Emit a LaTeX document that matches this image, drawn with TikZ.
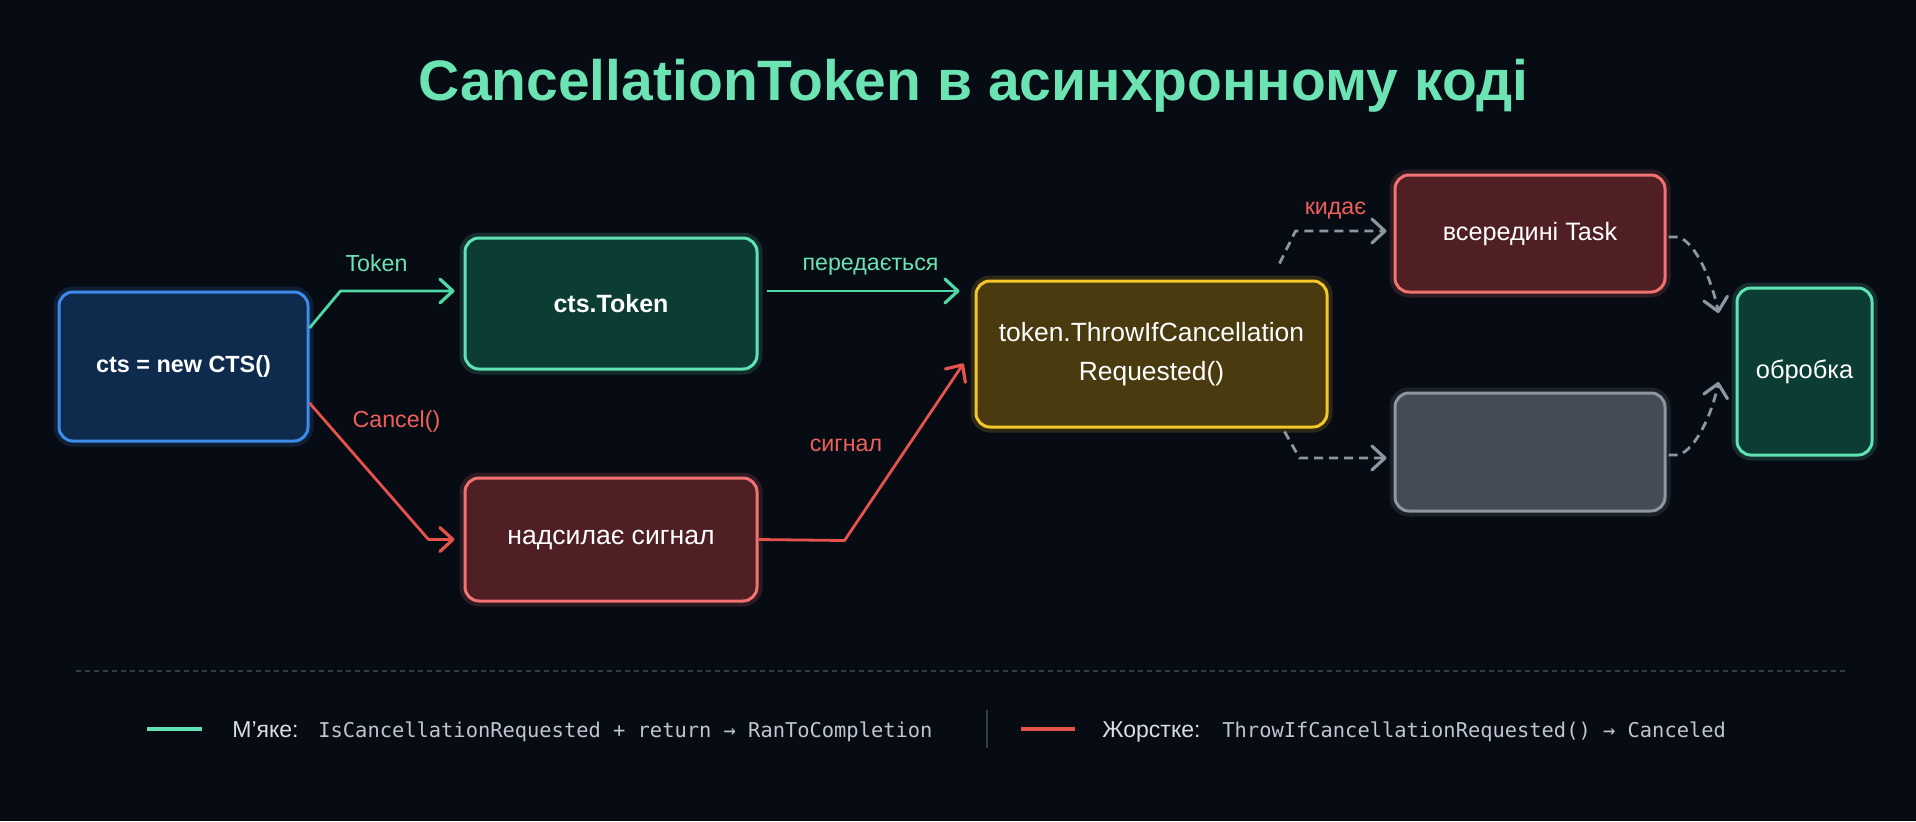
\documentclass[tikz,border=0pt]{standalone}
\usepackage{fontspec}
\setmainfont{Liberation Sans}
\newfontfamily\monofnt{DejaVu Sans Mono}
\usetikzlibrary{arrows.meta,calc}

\definecolor{bg}{HTML}{070B13}
\definecolor{mint}{HTML}{6BE3B3}
\definecolor{garr}{HTML}{4FD8A6}
\definecolor{rarr}{HTML}{E5534B}
\definecolor{rtxt}{HTML}{F0605A}
\definecolor{darr}{HTML}{8C96A0}
\definecolor{bluebd}{HTML}{3D8BEA}
\definecolor{bluefl}{HTML}{0E2A4C}
\definecolor{greenbd}{HTML}{5FE3B4}
\definecolor{greenfl}{HTML}{0B3D35}
\definecolor{redbd}{HTML}{F27272}
\definecolor{redfl}{HTML}{4F1F24}
\definecolor{yelbd}{HTML}{F5C628}
\definecolor{yelfl}{HTML}{4A3A10}
\definecolor{graybd}{HTML}{8D97A2}
\definecolor{grayfl}{HTML}{434C56}
\definecolor{legtxt}{HTML}{BFC6D0}
\definecolor{legkey}{HTML}{D8DEE6}
\definecolor{sepcol}{HTML}{343C48}

\begin{document}
\begin{tikzpicture}[x=0.5pt,y=-0.5pt,
  box/.style={rounded corners=7pt, line width=1.5pt, inner sep=0pt, align=center, text=white},
  glow/.style={preaction={draw=#1, draw opacity=0.16, line width=5.5pt}},
  bluebox/.style={box, draw=bluebd, fill=bluefl, glow=bluebd},
  greenbox/.style={box, draw=greenbd, fill=greenfl, glow=greenbd},
  redbox/.style={box, draw=redbd, fill=redfl, glow=redbd},
  yelbox/.style={box, draw=yelbd, fill=yelfl, glow=yelbd},
  graybox/.style={box, draw=graybd, fill=grayfl, glow=graybd},
  lbl/.style={font=\fontsize{11.6}{14}\selectfont, inner sep=0pt, anchor=base},
  conn/.style={line width=1.4pt, line join=round},
  tipA/.style={-{Straight Barb[length=6.5pt,width=12pt,round,line width=1.6pt]}},
  garrow/.style={conn, tipA, draw=garr},
  rarrow/.style={conn, tipA, draw=rarr},
  darrow/.style={conn, tipA, draw=darr, dash pattern=on 4.5pt off 3pt},
  legkeyst/.style={anchor=base west, inner sep=0pt, text=legkey, font=\fontsize{11.5}{14}\selectfont},
  legmono/.style={anchor=base west, inner sep=0pt, text=legtxt, font=\monofnt\fontsize{10.2}{13}\selectfont},
]
\useasboundingbox[fill=bg] (0,0) rectangle (1916,821);

% title
\node[anchor=base, inner sep=0pt, text=mint, font=\fontsize{28.5}{34}\selectfont\bfseries] (title) at (973.5,100) {CancellationToken в асинхронному коді};

% boxes
\node[bluebox, minimum width=124.5pt, minimum height=74.5pt, font=\fontsize{11.7}{14}\selectfont\bfseries] (cts) at (183.5,366.5) {cts = new CTS()};
\node[greenbox, minimum width=146pt, minimum height=65.5pt, font=\fontsize{12.5}{15}\selectfont\bfseries] (tok) at (611,303.5) {cts.Token};
\node[redbox, minimum width=146pt, minimum height=61.5pt, font=\fontsize{13.3}{16}\selectfont] (sig) at (611,539.5) {надсилає сигнал};
\node[yelbox, minimum width=175.5pt, minimum height=73pt, font=\fontsize{13.2}{19.5}\selectfont] (thr) at (1151.5,354) {token.ThrowIfCancellation\\Requested()};
\node[redbox, minimum width=135pt, minimum height=58.5pt, font=\fontsize{12.6}{15}\selectfont] (task) at (1530,233.5) {всередині Task};
\node[graybox, minimum width=135pt, minimum height=59pt] (gry) at (1530,452) {};
\node[greenbox, minimum width=67.5pt, minimum height=83.5pt, font=\fontsize{12.7}{15}\selectfont] (obr) at (1804.5,371.5) {обробка};

% connectors
\draw[garrow] ($(cts.east)+(0,-38.5)$) -- ($(tok.west)+(-123,-12.5)$) -- ($(tok.west)+(-9,-12.5)$);
\node[lbl, text=mint] (ltok) at (376.5,271) {Token};

\draw[rarrow] ($(cts.east)+(0,36.5)$) -- ($(sig.west)+(-35,0)$) -- ($(sig.west)+(-9,0)$);
\node[lbl, text=rtxt] (lcan) at (396.5,427) {Cancel()};

\draw[garrow] ($(tok.east)+(8,-12.5)$) -- ($(thr.west)+(-15,-63)$);
\node[lbl, text=mint] (lper) at (870.5,270) {передається};

\draw[rarrow] (sig.east) -- ($(sig.east)+(86,1)$) -- ($(thr.south west)+(-11,-65)$);
\node[lbl, text=rtxt] (lsig) at (846,451) {сигнал};

\draw[darrow] ($(thr.north east)+(-49,-16)$) -- ($(task.west)+(-98,-2.5)$) -- ($(task.west)+(-7,-2.5)$);
\node[lbl, text=rtxt] (lkyd) at (1335.5,214) {кидає};

\draw[darrow] ($(thr.south east)+(-44,3)$) -- ($(gry.west)+(-94,6)$) -- ($(gry.west)+(-7,6)$);

\draw[darrow] ($(task.east)+(2,3.5)$) -- ($(task.east)+(12,3.5)$) .. controls +(18,6) and +(-6,-30) .. ($(obr.west)+(-17,-58.5)$);
\draw[darrow] ($(gry.east)+(2,3)$) -- ($(gry.east)+(12,3)$) .. controls +(18,-6) and +(-6,30) .. ($(obr.west)+(-17,10.5)$);

% legend
\coordinate (sepL) at (76,671);
\coordinate (sepR) at (1848,671);
\draw[sepcol, line width=0.8pt, dash pattern=on 2.5pt off 2pt] (sepL) -- (sepR);

\coordinate (g1) at (147,729);
\coordinate (g2) at (202,729);
\draw[greenbd, line width=2pt] (g1) -- (g2);
\node[legkeyst] (k1) at (232,737) {М’яке:};
\node[legmono] (t1) at (318,737) {IsCancellationRequested + return → RanToCompletion};

\coordinate (v1) at (987,710);
\coordinate (v2) at (987,748);
\draw[sepcol, line width=0.9pt] (v1) -- (v2);

\coordinate (r1) at (1021,729);
\coordinate (r2) at (1075,729);
\draw[rarr, line width=2pt] (r1) -- (r2);
\node[legkeyst] (k2) at (1102,737) {Жорстке:};
\node[legmono] (t2) at (1222,737) {ThrowIfCancellationRequested() → Canceled};
\end{tikzpicture}
\end{document}
